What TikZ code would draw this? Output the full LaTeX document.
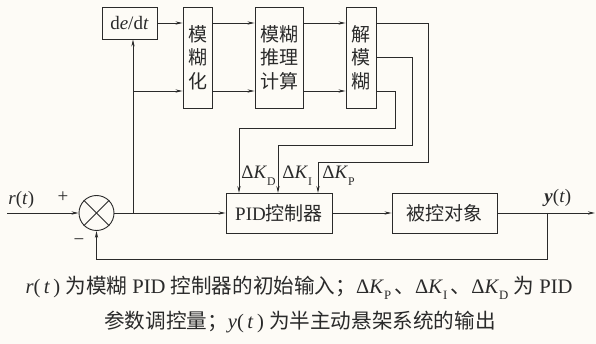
\documentclass[tikz,border=0pt]{standalone}
\usepackage{fontspec}
\setmainfont{Liberation Serif}
\newfontfamily\cjk{Noto Sans CJK SC}
\usetikzlibrary{arrows.meta,calc}
\newcommand\zh[1]{{\cjk #1}}
\newcommand\lsub[1]{\raisebox{-0.32em}{\scalebox{0.62}{#1}}}
\definecolor{bgc}{HTML}{FDFBF6}
\definecolor{ink}{HTML}{2A2A2A}
\begin{document}
\begin{tikzpicture}[x=1pt,y=-1pt,
  line width=0.9pt, draw=ink, text=ink,
  blk/.style={draw=ink,rectangle,inner sep=0pt,line width=0.9pt},
  lbl/.style={inner sep=0pt,font=\fontsize{19}{23.5}\selectfont},
  captext/.style={inner sep=0pt,font=\fontsize{20.6}{24}\selectfont},
  arr/.style={-{Stealth[length=7pt,width=3.2pt]}},
  wire/.style={draw=ink,line width=0.9pt}]
\useasboundingbox[fill=bgc] (0,0) rectangle (596,344);
% blocks
\node[blk,minimum width=55pt,minimum height=32pt,lbl] (dedt) at (129.5,23) {d\textit{e}/d\textit{t}};
\node[blk,minimum width=29pt,minimum height=101pt,lbl,align=center] (fuzz) at (197.5,57.5) {\zh{模}\\\zh{糊}\\\zh{化}};
\node[blk,minimum width=48pt,minimum height=101pt,lbl,align=center] (infer) at (279,57.5) {\zh{模糊}\\\zh{推理}\\\zh{计算}};
\node[blk,minimum width=30pt,minimum height=101pt,lbl,align=center] (defuz) at (361,57.5) {\zh{解}\\\zh{模}\\\zh{糊}};
\node[blk,minimum width=106pt,minimum height=40pt,lbl] (pid) at (279,213) {PID\zh{控制器}};
\node[blk,minimum width=105pt,minimum height=40pt,lbl] (plant) at (444.5,213) {\zh{被控对象}};
\node[draw=ink,circle,minimum size=35pt,inner sep=0pt,line width=0.9pt] (sum) at (96.5,213) {};
\draw[wire] (sum.north west) -- (sum.south east);
\draw[wire] (sum.north east) -- (sum.south west);
% coordinates
\coordinate (in) at (7,213);
\coordinate (br) at (133,213);
\coordinate (br2) at (133,91);
\coordinate (out) at (595,213);
\coordinate (fb) at (547,213);
\coordinate (fbl) at (96.5,259);
\coordinate (kpin) at (318,193);
\coordinate (kiin) at (278,193);
\coordinate (kdin) at (239,193);
% main path
\draw[wire,arr] (in) -- (sum.west);
\draw[wire,arr] (sum.east) -- (pid.west);
\draw[wire,arr] (br) -- (br |- dedt.south);
\draw[wire,arr] (br2) -- (br2 -| fuzz.west);
\draw[wire,arr] (dedt.east) -- (dedt.east -| fuzz.west);
\draw[wire,arr] ($(fuzz.east)+(0,-34.5)$) -- ($(infer.west)+(0,-34.5)$);
\draw[wire,arr] ($(fuzz.east)+(0,33.5)$) -- ($(infer.west)+(0,33.5)$);
\draw[wire,arr] ($(infer.east)+(0,-34.5)$) -- ($(defuz.west)+(0,-34.5)$);
\draw[wire,arr] ($(infer.east)+(0,33.5)$) -- ($(defuz.west)+(0,33.5)$);
% defuzz outputs
\draw[wire,arr] ($(defuz.east)+(0,-34.5)$) -- (428,23) -- (428,162) -- (318,162) -- (kpin);
\draw[wire,arr] (defuz.east) -- (412,57.5) -- (412,145) -- (278,145) -- (kiin);
\draw[wire,arr] ($(defuz.east)+(0,33.5)$) -- (395,91) -- (395,128) -- (239,128) -- (kdin);
% plant and feedback
\draw[wire,arr] (pid.east) -- (plant.west);
\draw[wire,arr] (plant.east) -- (out);
\draw[wire,arr] (fb) -- (547,259) -- (fbl) -- (sum.south);
% labels
\node[lbl,anchor=base west] (kd) at (241,179) {Δ\textit{K}\lsub{D}};
\node[lbl,anchor=base west] (ki) at (282,179) {Δ\textit{K}\lsub{I}};
\node[lbl,anchor=base west] (kp) at (322,179) {Δ\textit{K}\lsub{P}};
\node[lbl,anchor=base west] (rt) at (8,205) {\textit{r}(\textit{t})};
\node[lbl] (plus) at (63,197) {+};
\node[lbl] (minus) at (79,242) {−};
\node[lbl,anchor=base west] (yt) at (544,203) {\textbf{\textit{y}}(\textit{t})};
% caption
\node[captext] (cap1) at (299,288) {\textit{r}(\,\textit{t}\,) \zh{为模糊} PID \zh{控制器的初始输入；}Δ\textit{K}\lsub{P}\,\zh{、}Δ\textit{K}\lsub{I}\,\zh{、}Δ\textit{K}\lsub{D} \zh{为} PID};
\node[captext] (cap2) at (300,322) {\zh{参数调控量；}\textit{y}(\,\textit{t}\,) \zh{为半主动悬架系统的输出}};
\end{tikzpicture}
\end{document}
